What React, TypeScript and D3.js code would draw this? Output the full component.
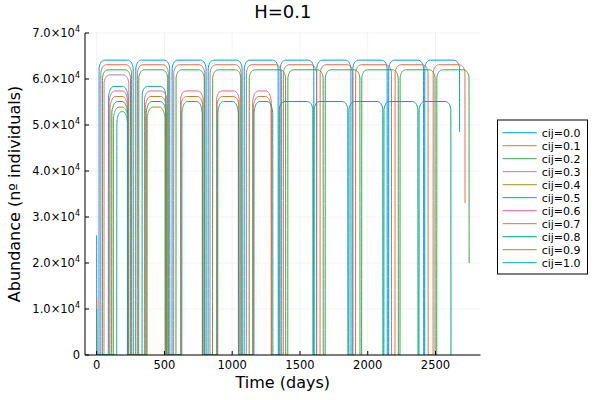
import React from "react";
import * as d3 from "d3";

// ---------- data ----------
const seriesLabels = [
  "cij=0.0", "cij=0.1", "cij=0.2", "cij=0.3", "cij=0.4", "cij=0.5",
  "cij=0.6", "cij=0.7", "cij=0.8", "cij=0.9", "cij=1.0",
];
const seriesColors = [
  "#009afa", "#e36f47", "#3ea44e", "#c271d2", "#ac8e18", "#00aaae",
  "#ed5e93", "#c68225", "#00a98d", "#8e971d", "#00a9cd",
];

// each growth season: [start day, end day, plateau abundance, (optional) last value]
const arcs00 = [[17, 270, 64100], [288, 540, 64100], [556, 808, 64100], [822, 1074, 64100], [1088, 1340, 64100], [1353, 1603, 64100], [1623, 1877, 64100], [1889, 2144, 64100], [2154, 2413, 64100], [2420, 2678, 64100, 48500]];
const arcs01 = [[30, 258, 63100], [300, 530, 63100], [568, 798, 63100], [836, 1066, 63100], [1104, 1365, 63100], [1377, 1623, 63100], [1648, 1890, 63100], [1910, 2176, 63100], [2201, 2446, 63100], [2482, 2718, 63100, 33000]];
const arcs02 = [[42, 251, 62000], [310, 525, 62000], [585, 795, 62000], [855, 1065, 62000], [1125, 1395, 62000], [1410, 1672, 62000], [1686, 1943, 62000], [1955, 2226, 62000], [2238, 2497, 62000], [2509, 2748, 62000, 20000]];
const arcs03 = [[54, 238, 60900]];
const arcs04: number[][] = [];
const arcs05 = [[86, 233, 58400], [335, 510, 58400]];
const arcs06 = [[91, 231, 57400], [352, 518, 57400], [618, 786, 57400], [884, 1052, 57400], [1150, 1290, 57400]];
const arcs07 = [[98, 230, 56200], [358, 515, 56200], [622, 783, 56200], [888, 1049, 56200], [1155, 1288, 56200]];
const arcs08 = [[111, 229, 55100], [365, 512, 55100], [628, 780, 55100], [893, 1046, 55100], [1160, 1300, 55100], [1346, 1596, 55100], [1603, 1854, 55100], [1861, 2112, 55100], [2119, 2371, 55100], [2378, 2614, 55100]];
const arcs09 = [[123, 231, 53900], [372, 505, 53900]];
const arcs10 = [[148, 228, 52900]];
const seriesArcs = [arcs00, arcs01, arcs02, arcs03, arcs04, arcs05, arcs06, arcs07, arcs08, arcs09, arcs10];
const initialValues = [26000, 12500, 0, 0, 0, 10000, 0, 0, 0, 0, 0];

const xTicks = [0, 500, 1000, 1500, 2000, 2500];
const yTicks = [0, 10000, 20000, 30000, 40000, 50000, 60000, 70000];
const yTickMantissa = ["0", "1.0", "2.0", "3.0", "4.0", "5.0", "6.0", "7.0"];

// ---------- layout ----------
const W = 600, H = 400;
const L = 85, R = 480.5, T = 33, B = 355;
const FONT = "DejaVu Sans, sans-serif";

const x = d3.scaleLinear().domain([-86, 2832]).range([L, R]);
const y = d3.scaleLinear().domain([0, 70000]).range([B, T]);

function buildPoints(arcs: number[][], init: number): [number, number][] {
  const pts: [number, number][] = [[0, init], [1, 0]];
  arcs.forEach((a) => {
    const [s, e, A] = a;
    const last = a.length > 3 ? a[3] : null;
    const len = e - s;
    const w = Math.min(42, len / 2.3);
    const d = len < 160 ? 2400 : 1700;
    pts.push([s, 0], [s + 1, A - d], [s + w * 0.3, A - d * 0.35], [s + w * 0.65, A - d * 0.08], [s + w, A]);
    pts.push([e - w, A], [e - w * 0.65, A - d * 0.08], [e - w * 0.3, A - d * 0.35]);
    if (last !== null) {
      pts.push([e - 1, A - d * 0.9], [e, last]);
    } else {
      pts.push([e - 1, A - d], [e, 0]);
    }
  });
  return pts;
}

export default function App() {
  const line = d3
    .line<[number, number]>()
    .x((d) => x(d[0]))
    .y((d) => y(d[1]))
    .curve(d3.curveMonotoneX);

  const legendX = 497.5, legendY = 120, legendW = 90, legendH = 154;

  return (
    <svg width={W} height={H} style={{ display: "block", position: "absolute", left: 0, top: 0, background: "#fff" }} fontFamily={FONT}>
      <rect x={0} y={0} width={W} height={H} fill="#fff" />
      <defs>
        <clipPath id="plotclip">
          <rect x={L} y={T} width={R - L} height={B - T} />
        </clipPath>
      </defs>
      {/* grid */}
      {xTicks.map((t) => (
        <line key={"gx" + t} x1={x(t)} x2={x(t)} y1={T} y2={B} stroke="#000" strokeOpacity={0.1} strokeWidth={0.5} />
      ))}
      {yTicks.map((t) => (
        <line key={"gy" + t} x1={L} x2={R} y1={y(t)} y2={y(t)} stroke="#000" strokeOpacity={0.1} strokeWidth={0.5} />
      ))}
      {/* series */}
      <g clipPath="url(#plotclip)">
        {seriesArcs.map((arcs, i) => (
          <path key={"s" + i} d={line(buildPoints(arcs, initialValues[i])) || ""} fill="none" stroke={seriesColors[i]} strokeWidth={1} />
        ))}
      </g>
      {/* axes */}
      <line x1={L} x2={L} y1={T} y2={B} stroke="#000" strokeWidth={1} />
      <line x1={L} x2={R} y1={B} y2={B} stroke="#000" strokeWidth={1} />
      {xTicks.map((t) => (
        <g key={"xt" + t}>
          <line x1={x(t)} x2={x(t)} y1={B} y2={B - 4} stroke="#000" strokeWidth={1} />
          <text x={x(t)} y={B + 14} textAnchor="middle" fontSize={11.5} fill="#000">{t}</text>
        </g>
      ))}
      {yTicks.map((t, i) => (
        <g key={"yt" + t}>
          <line x1={L} x2={L + 4} y1={y(t)} y2={y(t)} stroke="#000" strokeWidth={1} />
          {t === 0 ? (
            <text x={80} y={y(t) + 4} textAnchor="end" fontSize={11.5} fill="#000">0</text>
          ) : (
            <text x={80} y={y(t) + 4} textAnchor="end" fontSize={11.5} fill="#000">
              {yTickMantissa[i] + "×10"}
              <tspan dy={-5} fontSize={8}>4</tspan>
            </text>
          )}
        </g>
      ))}
      {/* labels */}
      <text x={(L + R) / 2} y={18} textAnchor="middle" fontSize={18} fill="#000">H=0.1</text>
      <text x={(L + R) / 2} y={388} textAnchor="middle" fontSize={16} fill="#000">Time (days)</text>
      <text transform={`translate(19.5,${(T + B) / 2}) rotate(-90)`} textAnchor="middle" fontSize={16} fill="#000">Abundance (nº individuals)</text>
      {/* legend */}
      <rect x={legendX} y={legendY} width={legendW} height={legendH} fill="#fff" stroke="#000" strokeWidth={1} />
      {seriesLabels.map((lab, i) => {
        const ly = 132.7 + i * 13;
        return (
          <g key={"lg" + i}>
            <line x1={502.7} x2={536.7} y1={ly} y2={ly} stroke={seriesColors[i]} strokeWidth={1} />
            <text x={541.7} y={ly + 4} fontSize={11} fill="#000">{lab}</text>
          </g>
        );
      })}
    </svg>
  );
}
